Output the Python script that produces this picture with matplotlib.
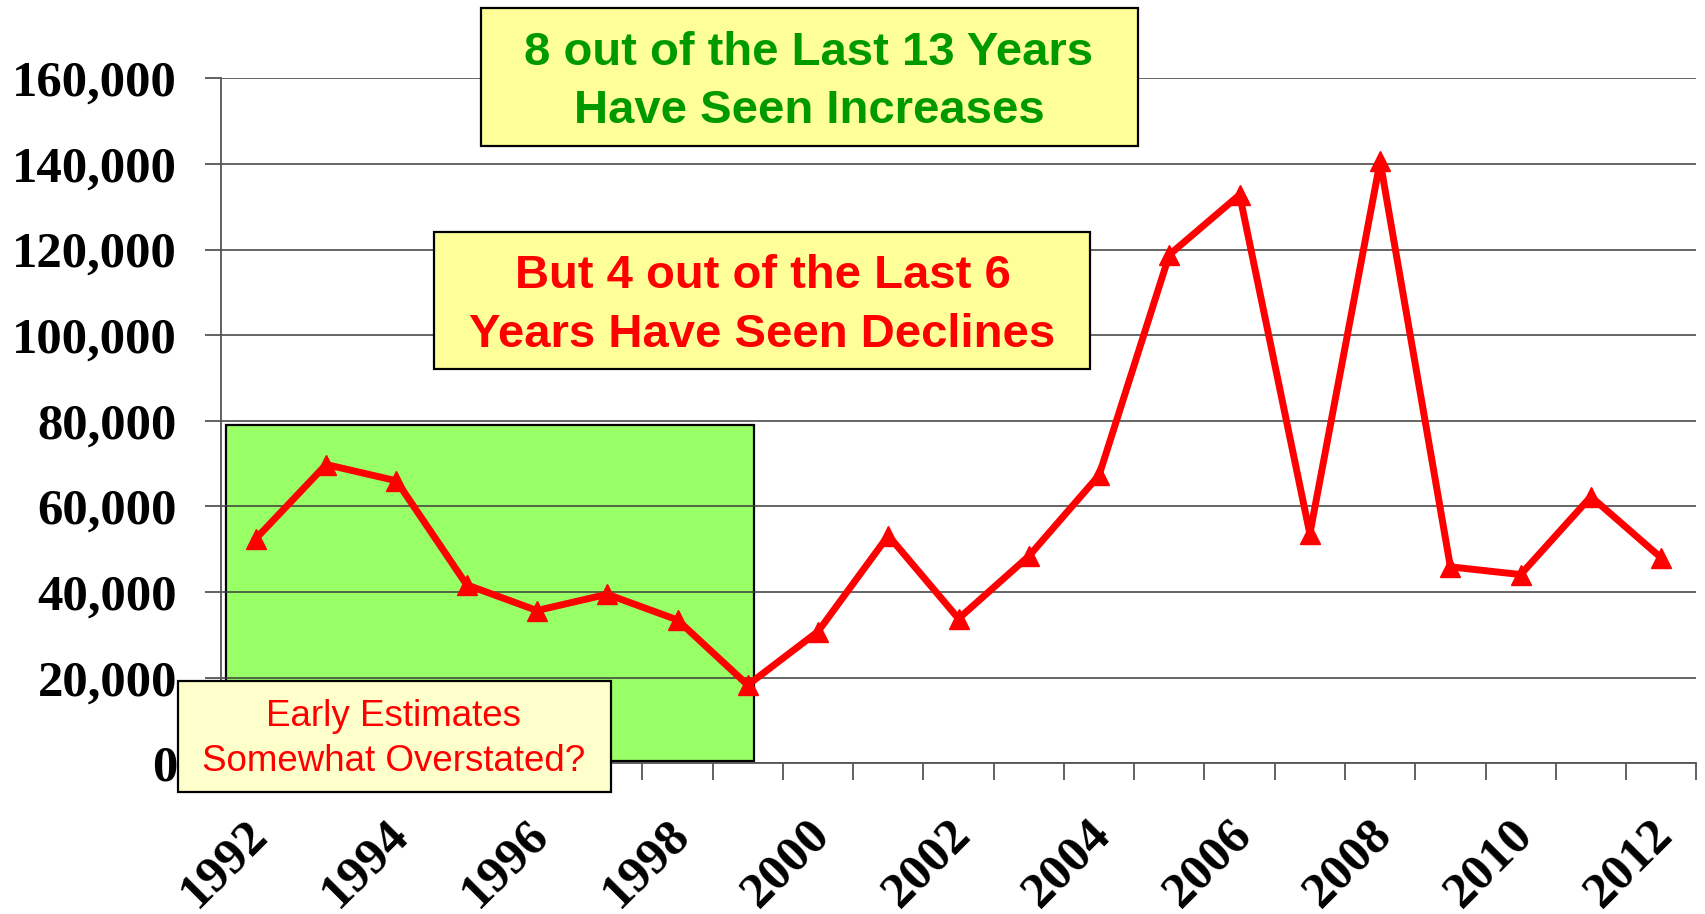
import matplotlib
matplotlib.use('Agg')
import matplotlib.pyplot as plt
import matplotlib.transforms as mtransforms
from matplotlib.patches import Rectangle
from matplotlib.ticker import FuncFormatter, MultipleLocator
import numpy as np

years = list(range(1992, 2013))
values = [52500, 69800, 66000, 41700, 35700, 39500, 33500, 18300, 30800, 53200,
          33800, 48400, 67300, 118800, 132800, 53600, 140600, 45900, 44100, 62300, 48000]
label_years = years[::2]

plt.rcParams['font.family'] = 'Liberation Serif'
plt.rcParams['font.weight'] = 'bold'

fig = plt.figure(figsize=(17.05, 9.14), dpi=100)
ax = fig.add_axes([0.1295, 0.1648, 0.8654, 0.7495])

x = np.arange(len(years))
ax.plot(x, values, color='#ff0000', lw=5, marker='^', ms=14, zorder=3)

ax.set_xlim(-0.5, len(years) - 0.5)
ax.set_ylim(0, 160000)
ax.yaxis.set_major_locator(MultipleLocator(20000))
ax.yaxis.set_major_formatter(FuncFormatter(lambda v, p: f'{v:,.0f}'))
ax.grid(axis='y', color='#3c3c3c', lw=1.1)
ax.set_axisbelow(True)

for side in ['top', 'right']:
    ax.spines[side].set_visible(False)
for side in ['left', 'bottom']:
    ax.spines[side].set_color('#555555')
    ax.spines[side].set_linewidth(1.3)

# labels on every other year, tick marks between categories
ax.set_xticks(x[::2], [str(y) for y in label_years], rotation=45,
              ha='right', va='center', rotation_mode='anchor')
ax.set_xticks(np.arange(-0.5, len(years)), minor=True)
ax.tick_params(axis='x', which='major', length=0, pad=46, labelsize=37)
ax.tick_params(axis='x', which='minor', length=12, width=1.3, color='#555555')
ax.tick_params(axis='y', length=11.5, width=1.3, color='#555555', pad=20, labelsize=36.5)
shift = mtransforms.ScaledTranslation(0.05, 0, fig.dpi_scale_trans)
for lbl in ax.get_xticklabels():
    lbl.set_transform(lbl.get_transform() + shift)

# highlighted early years
ax.add_patch(Rectangle((0.1327, 0.1672), 0.3093, 0.3676, transform=fig.transFigure,
                       facecolor='#99ff66', edgecolor='black', lw=1.6, zorder=0.2))

# callout boxes
fig.add_artist(Rectangle((0.2823, 0.8401), 0.3853, 0.1508, transform=fig.transFigure,
                         facecolor='#ffff99', edgecolor='black', lw=1.6, zorder=2))
fig.add_artist(Rectangle((0.2545, 0.5959), 0.3846, 0.1500, transform=fig.transFigure,
                         facecolor='#ffff99', edgecolor='black', lw=1.6, zorder=2))
fig.add_artist(Rectangle((0.1045, 0.1338), 0.2536, 0.1211, transform=fig.transFigure,
                         facecolor='#ffffcc', edgecolor='black', lw=1.6, zorder=2))

bold = dict(family='Liberation Sans', weight='bold', size=34, ha='center',
            va='baseline', zorder=3)
fig.text(0.4745, 0.9289, '8 out of the Last 13 Years', color='#009900', **bold)
fig.text(0.4745, 0.8658, 'Have Seen Increases', color='#009900', **bold)
fig.text(0.4472, 0.6846, 'But 4 out of the Last 6', color='#ff0000', **bold)
fig.text(0.4472, 0.6207, 'Years Have Seen Declines', color='#ff0000', **bold)

plain = dict(family='Liberation Sans', weight='normal', size=26.5, ha='center',
             va='baseline', zorder=3)
fig.text(0.2310, 0.2057, 'Early Estimates', color='#ff0000', **plain)
fig.text(0.2310, 0.1565, 'Somewhat Overstated?', color='#ff0000', **plain)

fig.savefig('out.png', dpi=100)
